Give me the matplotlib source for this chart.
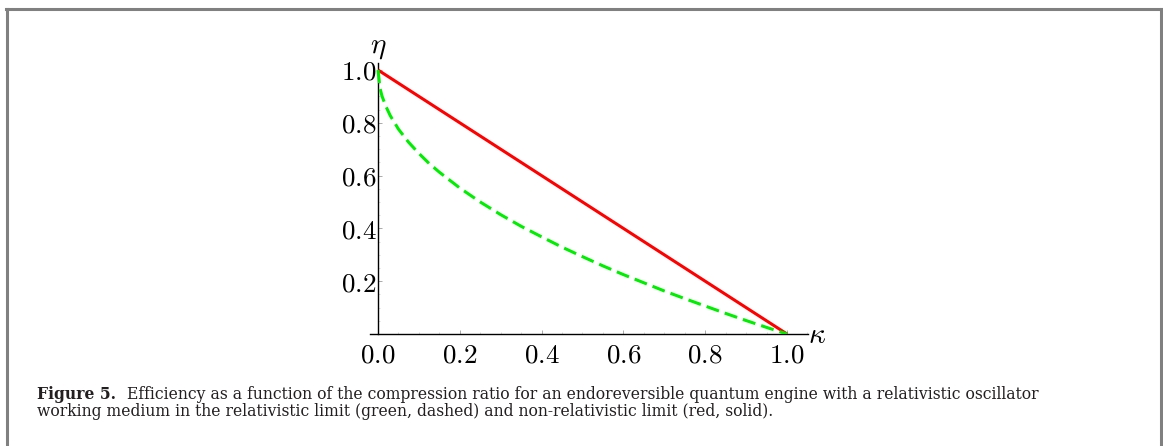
import matplotlib
matplotlib.use("Agg")
import matplotlib.pyplot as plt
from matplotlib.lines import Line2D
from matplotlib.ticker import MultipleLocator, FixedLocator

plt.rcParams['mathtext.fontset'] = 'cm'

# values
kappa = [0.0, 0.005, 0.01, 0.02, 0.03, 0.05, 0.075, 0.1, 0.125, 0.15, 0.2, 0.25,
         0.3, 0.35, 0.4, 0.45, 0.5, 0.55, 0.6, 0.65, 0.7, 0.75, 0.8, 0.85,
         0.9, 0.95, 1.0]
eta_rel = [1.0, 0.93, 0.90, 0.86, 0.827, 0.776, 0.726, 0.684, 0.646, 0.613, 0.553, 0.5,
           0.452, 0.408, 0.368, 0.329, 0.293, 0.258, 0.225, 0.194, 0.163, 0.134, 0.106, 0.078,
           0.051, 0.025, 0.0]
kappa_nr = [0.0, 1.0]
eta_nr = [1.0, 0.0]

xticks = [0.0, 0.2, 0.4, 0.6, 0.8, 1.0]
yticks = [0.2, 0.4, 0.6, 0.8, 1.0]

caption1_bold = "Figure 5."
caption1 = "Efficiency as a function of the compression ratio for an endoreversible quantum engine with a relativistic oscillator"
caption2 = "working medium in the relativistic limit (green, dashed) and non-relativistic limit (red, solid)."

W, H = 1163, 446
fig = plt.figure(figsize=(W / 100, H / 100), dpi=100)

# axes box in pixels: x 0 -> 378, 1 -> 787 ; y 0 -> 334, 1 -> 70
x0, x1 = -0.02, 1.051
y0, y1 = 0.0, 1.027
px_l = 378 + x0 * 409
px_r = 378 + x1 * 409
py_b = 334
py_t = 334 - y1 * 264
ax = fig.add_axes([px_l / W, (H - py_b) / H, (px_r - px_l) / W, (py_b - py_t) / H])
ax.set_xlim(x0, x1)
ax.set_ylim(y0, y1)

ax.plot(kappa_nr, eta_nr, color='#ff0000', lw=2.2, solid_capstyle='butt', zorder=3)
ax.plot(kappa, eta_rel, color='#00ee00', lw=2.2, linestyle=(0, (4.3, 2.0)), zorder=3)

for s in ['top', 'right']:
    ax.spines[s].set_visible(False)
ax.spines['left'].set_position(('data', 0))
ax.spines['left'].set_bounds(0, y1)
ax.spines['left'].set_linewidth(1.0)
ax.spines['bottom'].set_linewidth(1.0)

ax.xaxis.set_major_locator(FixedLocator(xticks))
ax.yaxis.set_major_locator(FixedLocator(yticks))
ax.xaxis.set_minor_locator(MultipleLocator(0.05))
ax.yaxis.set_minor_locator(MultipleLocator(0.05))
ax.set_xticklabels(['$%.1f$' % t for t in xticks])
ax.set_yticklabels(['$%.1f$' % t for t in yticks])
ax.tick_params(axis='both', which='major', direction='in', length=3, width=0.7,
               color='#aaaaaa', labelsize=19.5)
ax.tick_params(axis='both', which='minor', direction='in', length=1.5, width=0.5,
               color='#cccccc')
ax.tick_params(axis='x', which='major', pad=6)
ax.tick_params(axis='y', which='major', pad=1)

ax.text(0.0, 1.087, r'$\eta$', fontsize=21, ha='center', va='center', clip_on=False)
ax.text(1.073, -0.005, r'$\kappa$', fontsize=21, ha='center', va='center', clip_on=False)

# gray frame (no bottom edge)
gray = '#808080'
fig.add_artist(Line2D([7 / W, 7 / W], [0, 1 - 9 / H], color=gray, lw=2.2,
                      transform=fig.transFigure))
fig.add_artist(Line2D([6 / W, 1161 / W], [1 - 9 / H, 1 - 9 / H], color=gray, lw=2.2,
                      transform=fig.transFigure))
fig.add_artist(Line2D([1160.5 / W, 1160.5 / W], [0, 1 - 9 / H], color=gray, lw=2.2,
                      transform=fig.transFigure))

# caption, font size fitted so that line 1 spans like the reference
cap_font = dict(family='DejaVu Serif', color='#231f20')
t_bold = fig.text(37 / W, 1 - 399 / H, caption1_bold, fontweight='bold', va='baseline',
                  fontsize=11.8, **cap_font)
t1 = fig.text(127 / W, 1 - 399 / H, caption1, va='baseline', fontsize=11.8, **cap_font)
t2 = fig.text(37 / W, 1 - 416 / H, caption2, va='baseline', fontsize=11.8, **cap_font)
r = fig.canvas.get_renderer()
wid = t1.get_window_extent(r).width
fs = 11.8 * (1042 - 127) / wid
for t in (t_bold, t1, t2):
    t.set_fontsize(fs)

fig.savefig('out.png', dpi=100)
